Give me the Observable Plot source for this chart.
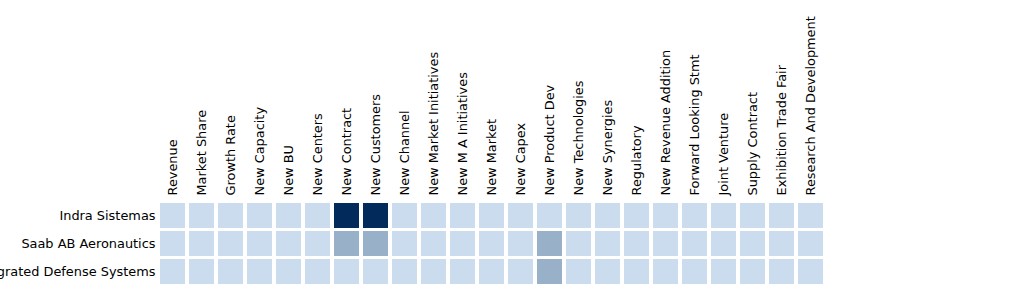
<!DOCTYPE html>
<html>
<head>
<meta charset="utf-8">
<script src="https://cdn.jsdelivr.net/npm/d3@7"></script>
<script src="https://cdn.jsdelivr.net/npm/@observablehq/plot@0.6"></script>
<style>
  html, body { margin: 0; padding: 0; background: #fff; }
  svg { display: block; }
</style>
</head>
<body>
<div id="chart"></div>
<script>
const companies = ["Indra Sistemas", "Saab AB Aeronautics", "Saab AB Integrated Defense Systems"];
const topics = ["Revenue", "Market Share", "Growth Rate", "New Capacity", "New BU", "New Centers",
  "New Contract", "New Customers", "New Channel", "New Market Initiatives", "New M A Initiatives",
  "New Market", "New Capex", "New Product Dev", "New Technologies", "New Synergies", "Regulatory",
  "New Revenue Addition", "Forward Looking Stmt", "Joint Venture", "Supply Contract",
  "Exhibition Trade Fair", "Research And Development"];
const indraValues = [0,0,0,0,0,0,4,4,0,0,0,0,0,0,0,0,0,0,0,0,0,0,0];
const aeroValues  = [0,0,0,0,0,0,1,1,0,0,0,0,0,1,0,0,0,0,0,0,0,0,0];
const idsValues   = [0,0,0,0,0,0,0,0,0,0,0,0,0,1,0,0,0,0,0,0,0,0,0];
const seriesValues = [indraValues, aeroValues, idsValues];

const data = [];
companies.forEach((c, i) => topics.forEach((t, j) => data.push({company: c, topic: t, value: seriesValues[i][j]})));

const chart = Plot.plot({
  width: 1024,
  height: 305,
  marginLeft: 156,
  marginRight: 197,
  marginTop: 199,
  marginBottom: 17,
  style: {fontFamily: "DejaVu Sans", fontSize: "12.9px", color: "#000", background: "#fff"},
  x: {domain: topics, padding: 4 / 29},
  y: {domain: companies, padding: 3.5 / 28.5},
  color: {type: "linear", domain: [0, 4], range: ["#cbdcee", "#022b5b"]},
  marks: [
    Plot.cell(data, {x: "topic", y: "company", fill: "value", inset: 0}),
    Plot.axisX({anchor: "top", tickRotate: -90, tickSize: 0, tickPadding: 4, label: null, fontSize: 12.9}),
    Plot.axisY({anchor: "left", tickSize: 0, tickPadding: 1, label: null, fontSize: 12.9})
  ]
});
document.getElementById("chart").appendChild(chart);
</script>
</body>
</html>
